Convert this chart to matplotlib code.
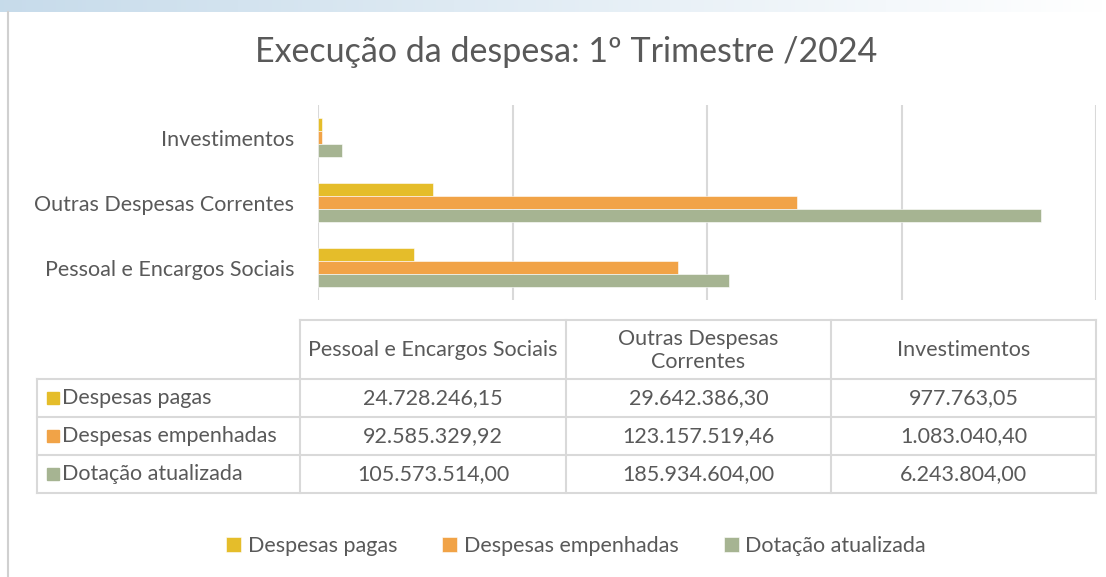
import numpy as np
import matplotlib
matplotlib.use("Agg")
import matplotlib.pyplot as plt
from matplotlib.patches import Rectangle

plt.rcParams['font.family'] = ['Lato', 'DejaVu Sans']

# dados
categorias = ['Pessoal e Encargos Sociais', 'Outras Despesas Correntes', 'Investimentos']
series = ['Despesas pagas', 'Despesas empenhadas', 'Dotação atualizada']
despesas_pagas = [24728246.15, 29642386.30, 977763.05]
despesas_empenhadas = [92585329.92, 123157519.46, 1083040.40]
dotacao_atualizada = [105573514.00, 185934604.00, 6243804.00]
cores = ['#E5BD2A', '#F1A347', '#A6B492']
titulo = 'Execução da despesa: 1º Trimestre /2024'

texto = '#595959'
grade = '#D9D9D9'
W, H = 1106, 577


def fmt_br(v):
    s = f"{v:,.2f}"
    return s.replace(",", "X").replace(".", ",").replace("X", ".")


fig = plt.figure(figsize=(W / 100, H / 100), dpi=100)

# fundo em pixels
bg = fig.add_axes([0, 0, 1, 1], zorder=0)
bg.axis('off')

# faixa azul no topo
grad = np.linspace(0, 1, 256)
r = 0.78 + 0.22 * grad
g = 0.86 + 0.14 * grad
b = 0.92 + 0.08 * grad
faixa = np.dstack([r, g, b]).repeat(2, axis=0)
bg.imshow(faixa, extent=[0, W, 12, 0], aspect='auto', zorder=1)
bg.set_xlim(0, W)
bg.set_ylim(H, 0)
bg.plot([8, 8], [12, H], color='#D0D0D0', lw=1.5, zorder=2)

bg.text(566, 52, titulo, ha='center', va='center', fontsize=24.5, color=texto)

# gráfico de barras
ax = fig.add_axes([318 / W, 1 - 300 / H, 778 / W, 195 / H], zorder=2)
ax.patch.set_alpha(0)
y = np.arange(len(categorias))
h = 0.205
b1 = ax.barh(y + h, despesas_pagas, height=h, color=cores[0], label=series[0],
             edgecolor='white', linewidth=0.4)
b2 = ax.barh(y, despesas_empenhadas, height=h, color=cores[1], label=series[1],
             edgecolor='white', linewidth=0.4)
b3 = ax.barh(y - h, dotacao_atualizada, height=h, color=cores[2], label=series[2],
             edgecolor='white', linewidth=0.4)
ax.set_xlim(0, 200e6)
ax.set_ylim(-0.5, 2.5)
ax.set_xticks(np.arange(0, 200e6 + 1, 50e6))
ax.set_xticklabels([])
ax.grid(axis='x', color=grade, lw=1.5)
ax.set_axisbelow(True)
for s in ax.spines.values():
    s.set_visible(False)
ax.set_yticks(y)
ax.set_yticklabels(categorias, fontsize=15.5, color=texto)
ax.tick_params(axis='y', length=0, pad=17)
ax.tick_params(axis='x', length=0)

# tabela de dados
x_cols = [37, 300, 566, 831, 1096]
y_rows = [320, 379, 417, 455, 493]
lw = 1.5
bg.plot([x_cols[1], x_cols[-1]], [y_rows[0], y_rows[0]], color=grade, lw=lw)
for yy in y_rows[1:]:
    bg.plot([x_cols[0], x_cols[-1]], [yy, yy], color=grade, lw=lw)
bg.plot([x_cols[0], x_cols[0]], [y_rows[1], y_rows[-1]], color=grade, lw=lw)
for xx in x_cols[1:]:
    bg.plot([xx, xx], [y_rows[0], y_rows[-1]], color=grade, lw=lw)

cabecalhos = ['Pessoal e Encargos Sociais', 'Outras Despesas\nCorrentes', 'Investimentos']
fs = 15.5
for j, c in enumerate(cabecalhos):
    xc = (x_cols[j + 1] + x_cols[j + 2]) / 2
    bg.text(xc, (y_rows[0] + y_rows[1]) / 2 + 1, c, ha='center', va='center',
            fontsize=fs, color=texto, linespacing=1.15)

valores = [despesas_pagas, despesas_empenhadas, dotacao_atualizada]
for i, (nome, vals) in enumerate(zip(series, valores)):
    yc = (y_rows[i + 1] + y_rows[i + 2]) / 2
    bg.add_patch(Rectangle((47, yc - 6), 12, 12, color=cores[i], zorder=3))
    bg.text(62, yc, nome, ha='left', va='center', fontsize=fs, color=texto)
    for j, v in enumerate(vals):
        xc = (x_cols[j + 1] + x_cols[j + 2]) / 2
        bg.text(xc, yc, fmt_br(v), ha='center', va='center', fontsize=fs, color=texto)

# legenda
fig.legend(handles=[b1, b2, b3], labels=series, loc='center',
           bbox_to_anchor=(576 / W, 1 - 546 / H), ncol=3, frameon=False,
           fontsize=15.5, labelcolor=texto, handlelength=0.7, handleheight=0.7,
           handletextpad=0.3, columnspacing=2.1)

fig.savefig('out.png', dpi=100)
